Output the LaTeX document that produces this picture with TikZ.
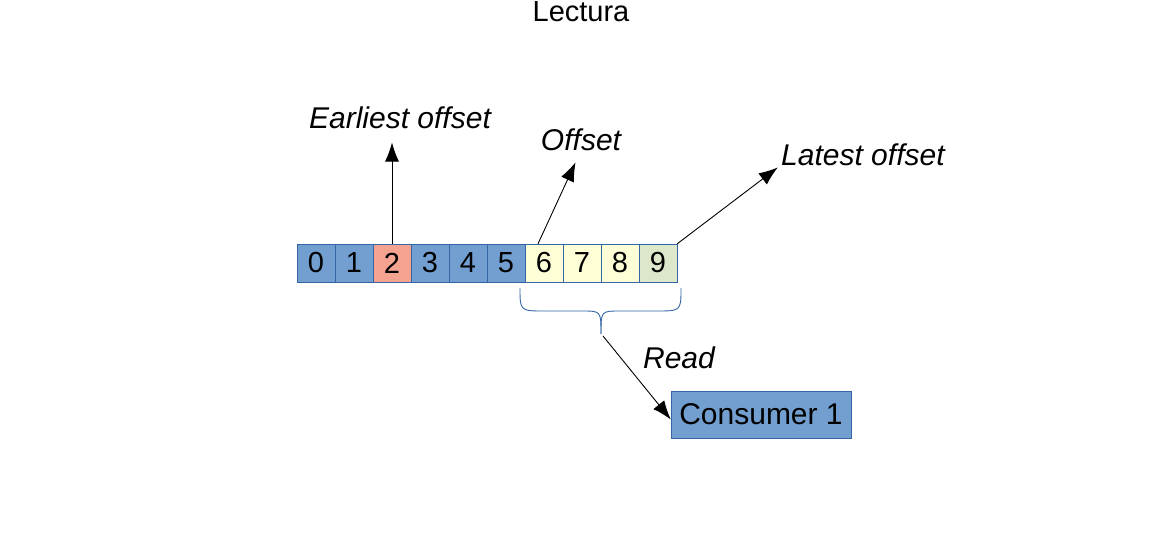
\documentclass[tikz,border=0pt]{standalone}
\usepackage{fontspec}
\setmainfont{Liberation Sans}
\usepackage{tikz}
\usetikzlibrary{shapes,arrows.meta,positioning}
\definecolor{cellblue}{HTML}{729FCF}
\definecolor{cellborder}{HTML}{3465A4}
\definecolor{cellred}{HTML}{F4A391}
\definecolor{cellyellow}{HTML}{FFFFD7}
\definecolor{cellgreen}{HTML}{DDE8CB}
\begin{document}
\begin{tikzpicture}[x=1pt, y=-1pt, node distance = 38pt]
        \tikzstyle{cell} = [rectangle, draw=cellborder, fill=cellblue, minimum width=38pt, minimum height=38pt, inner sep=0pt, font=\fontsize{29}{34}\selectfont]
        \tikzstyle{label} = [inner sep=0pt, anchor=base, font=\fontsize{30}{36}\selectfont\itshape]
        \tikzstyle{line} = [draw, black, line width=0.9pt, -{Latex[length=19pt, width=14pt]}]
        \tikzstyle{brace} = [draw, cellborder, line width=0.9pt]

    \useasboundingbox (0,0) rectangle (1174,542);

    \node [inner sep=0pt, anchor=base, font=\fontsize{29}{34}\selectfont] (title) at (581,21) {Lectura};

    \node [cell] (c0) at (316,263) {0};
    \node [cell, right of=c0] (c1) {1};
    \node [cell, right of=c1, fill=cellred] (c2) {2};
    \node [cell, right of=c2] (c3) {3};
    \node [cell, right of=c3] (c4) {4};
    \node [cell, right of=c4] (c5) {5};
    \node [cell, right of=c5, fill=cellyellow] (c6) {6};
    \node [cell, right of=c6, fill=cellyellow] (c7) {7};
    \node [cell, right of=c7, fill=cellyellow] (c8) {8};
    \node [cell, right of=c8, fill=cellgreen] (c9) {9};

    \node [label] (earliest) at (400,128) {Earliest offset};
    \node [label] (offset) at (581,150) {Offset};
    \node [label, anchor=base west] (latest) at (781,165) {Latest offset};
    \node [label] (read) at (679,368) {Read};

    \node [cell, minimum width=180pt, minimum height=47pt, font=\fontsize{30}{36}\selectfont] (consumer) at (761,414.5) {Consumer 1};

    \path [line] (c2.north) -- (c2.north |- earliest.south) [shorten >=14pt];
    \path [line, shorten >=13pt] ([xshift=-6pt]c6.north) -- (offset.south);
    \path [line, shorten >=4pt] (c9.north east) -- (latest.base west);

    \coordinate (tip) at (601,334);
    \path [brace] (520,288) .. controls (520,311) .. (545,311) -- (582,311) .. controls (601,311) .. (tip);
    \path [brace] (681,288) .. controls (681,311) .. (656,311) -- (620,311) .. controls (601,311) .. (tip);

    \path [line] ([shift={(2pt,-2pt)}]tip) -- ([yshift=-5pt]consumer.west);

    \end{tikzpicture}
\end{document}
